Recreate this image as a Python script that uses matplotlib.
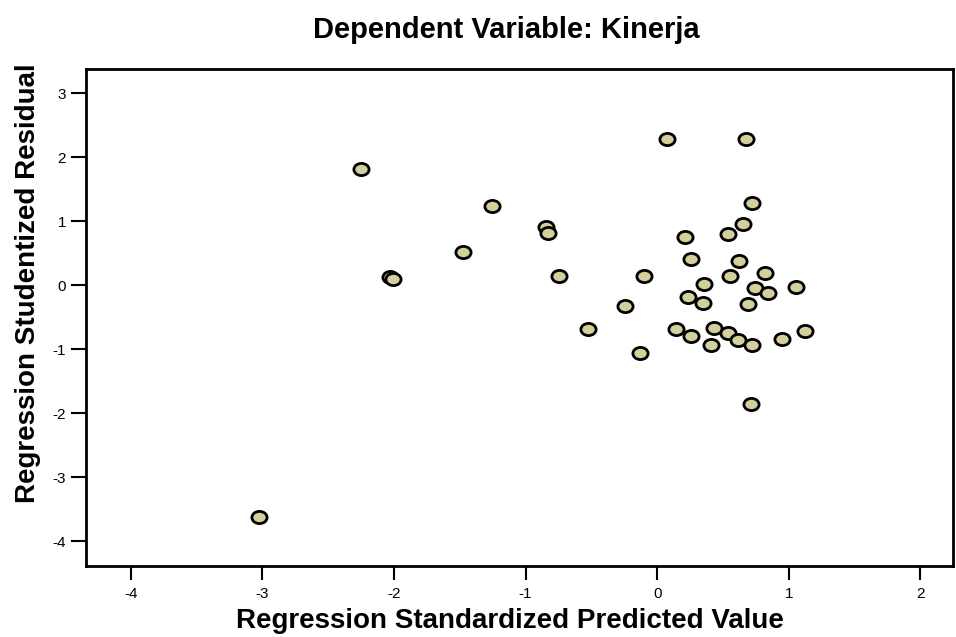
import matplotlib.pyplot as plt
from matplotlib.path import Path
from matplotlib.transforms import Affine2D

plt.rcParams['font.family'] = ['Liberation Sans', 'DejaVu Sans']
plt.rcParams['axes.unicode_minus'] = False

# standardized predicted value vs studentized residual
pred = [-3.025, -2.253, -1.254, -0.848, -0.833, -1.474, -2.030, -2.005, -0.749,
        0.075, 0.675, 0.718, 0.652, 0.538, 0.212, 0.255, 0.625, 0.815, 0.554,
        -0.102, 0.354, 0.743, 0.838, 1.055, 0.232, 0.346, 0.690, -0.248, -0.527,
        0.139, 0.253, 0.432, 0.541, 0.610, 0.718, 0.405, 0.951, 1.123, -0.130, 0.716]
resid = [-3.62, 1.813, 1.239, 0.916, 0.822, 0.525, 0.130, 0.103, 0.141,
         2.286, 2.286, 1.281, 0.958, 0.806, 0.755, 0.416, 0.380, 0.197, 0.141,
         0.141, 0.020, -0.037, -0.125, -0.022, -0.178, -0.272, -0.288, -0.328, -0.683,
         -0.683, -0.788, -0.672, -0.750, -0.850, -0.928, -0.933, -0.844, -0.714, -1.053, -1.855]

xticks = [-4, -3, -2, -1, 0, 1, 2]
yticks = [-4, -3, -2, -1, 0, 1, 2, 3]

fig = plt.figure(figsize=(9.56, 6.37), dpi=100)
ax = fig.add_axes([0.0896, 0.1115, 0.907, 0.7797])

ellipse = Path.unit_circle().transformed(Affine2D().scale(1.0, 0.8))
ax.scatter(pred, resid, marker=ellipse, s=120, facecolor='#d4d09c',
           edgecolor='black', linewidth=2.0, zorder=3)

ax.set_xlim(-4.342, 2.245)
ax.set_ylim(-4.386, 3.375)
ax.set_xticks(xticks)
ax.set_yticks(yticks)
ax.tick_params(axis='x', direction='out', length=10, width=1.5, labelsize=11, pad=5)
ax.tick_params(axis='y', direction='out', length=11, width=1.5, labelsize=11, pad=3)
for s in ax.spines.values():
    s.set_linewidth(2)

fig.text(506 / 956, 1 - 30 / 637, 'Dependent Variable: Kinerja', ha='center',
         va='center', fontsize=21, fontweight='bold')
fig.text(510 / 956, 1 - 621 / 637, 'Regression Standardized Predicted Value',
         ha='center', va='center', fontsize=20, fontweight='bold')
fig.text(28 / 956, 1 - 283 / 637, 'Regression Studentized Residual', ha='center',
         va='center', rotation=90, fontsize=20, fontweight='bold')

plt.savefig('out.png', dpi=100)
